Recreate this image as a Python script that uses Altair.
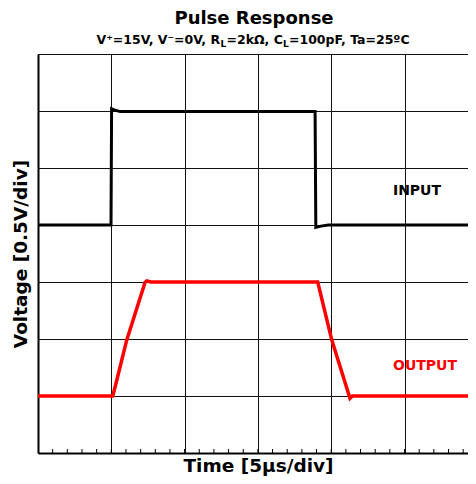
import altair as alt
import pandas as pd

# ---- data (time in µs, voltage in divisions of 0.5 V) ----
in_t = [0.0, 4.98, 5.02, 5.2, 5.6, 18.90, 18.95, 19.3, 19.8, 29.9]
in_v = [4.0, 4.0, 6.04, 6.02, 5.99, 5.99, 3.96, 3.98, 4.0, 4.0]

out_t = [0.0, 5.10, 5.25, 6.05, 7.30, 7.42, 7.7, 19.08, 20.03, 21.28, 21.45, 29.9]
out_v = [1.0, 1.0, 1.15, 1.98, 2.99, 3.02, 3.0, 3.0, 1.99, 0.96, 1.0, 1.0]

minor_t = [i for i in range(1, 30)]
grid_x = [0, 5, 10, 15, 20, 25]
grid_y = [0, 1, 2, 3, 4, 5, 6, 7]

labels = ["INPUT", "OUTPUT"]
label_t = [25.85, 26.4]
label_v = [4.52, 1.45]
label_color = ["#000000", "#ff0000"]

FONT = "DejaVu Sans"

df_in = pd.DataFrame({"t": in_t, "v": in_v})
df_out = pd.DataFrame({"t": out_t, "v": out_v})
df_minor = pd.DataFrame({"t": minor_t})
df_lab = pd.DataFrame({"label": labels, "t": label_t, "v": label_v, "c": label_color})

xscale = alt.Scale(domain=[0, 29.33], nice=False, zero=False)
yscale = alt.Scale(domain=[0, 7], nice=False, zero=False)

xax = alt.Axis(
    title="Time [5µs/div]", values=grid_x, grid=True, gridColor="#111", gridWidth=1,
    domain=True, domainColor="#000", domainWidth=2, ticks=False, labels=False,
    titleFont=FONT, titleFontSize=18.5, titleFontWeight="bold", titleColor="#000",
    titleBaseline="alphabetic", titlePadding=18, titleX=220,
)
yax = alt.Axis(
    title="Voltage [0.5V/div]", values=grid_y, grid=True, gridColor="#111", gridWidth=1,
    domain=True, domainColor="#000", domainWidth=2, ticks=False, labels=False,
    titleFont=FONT, titleFontSize=18.5, titleFontWeight="bold", titleColor="#000",
    titleBaseline="alphabetic", titlePadding=12,
)

base_in = alt.Chart(df_in).mark_line(color="#000000", strokeWidth=3, clip=True).encode(
    x=alt.X("t:Q", scale=xscale, axis=xax),
    y=alt.Y("v:Q", scale=yscale, axis=yax),
)
line_out = alt.Chart(df_out).mark_line(color="#ff0000", strokeWidth=3.5, clip=True).encode(
    x=alt.X("t:Q", scale=xscale),
    y=alt.Y("v:Q", scale=yscale),
)
minor = alt.Chart(df_minor).mark_rule(color="#000", strokeWidth=1).encode(
    x=alt.X("t:Q", scale=xscale),
    y=alt.value(399),
    y2=alt.value(395),
)
lab = alt.Chart(df_lab).mark_text(font=FONT, fontSize=14, fontWeight="bold",
                                  align="center", baseline="alphabetic").encode(
    x=alt.X("t:Q", scale=xscale),
    y=alt.Y("v:Q", scale=yscale),
    text="label:N",
    color=alt.Color("c:N", scale=None),
)

# title and subtitle (with sub/superscripts) as text pieces
def txt(s, x, y, size, align="left"):
    return alt.Chart(pd.DataFrame({"s": [s]})).mark_text(
        font=FONT, fontSize=size, fontWeight="bold", align=align,
        baseline="alphabetic", color="#000",
    ).encode(x=alt.value(x), y=alt.value(y), text="s:N")

title = txt("Pulse Response", 216, -30, 18, align="center")
sub_pieces = [
    txt("V⁺=15V, V⁻=0V, R", 58.5, -10, 12.5),
    txt("L", 182.5, -7, 9),
    txt("=2kΩ, C", 188.5, -10, 12.5),
    txt("L", 245.0, -7, 9),
    txt("=100pF, Ta=25ºC", 251.0, -10, 12.5),
]

chart = alt.layer(minor, base_in, line_out, lab, title, *sub_pieces).properties(
    width=430, height=399,
    padding={"left": 30, "top": 46, "right": 0, "bottom": 23},
    autosize=alt.AutoSizeParams(type="none"),
).configure_view(stroke=None)

chart.save("out.html", embed_options={"renderer": "svg", "actions": False})
